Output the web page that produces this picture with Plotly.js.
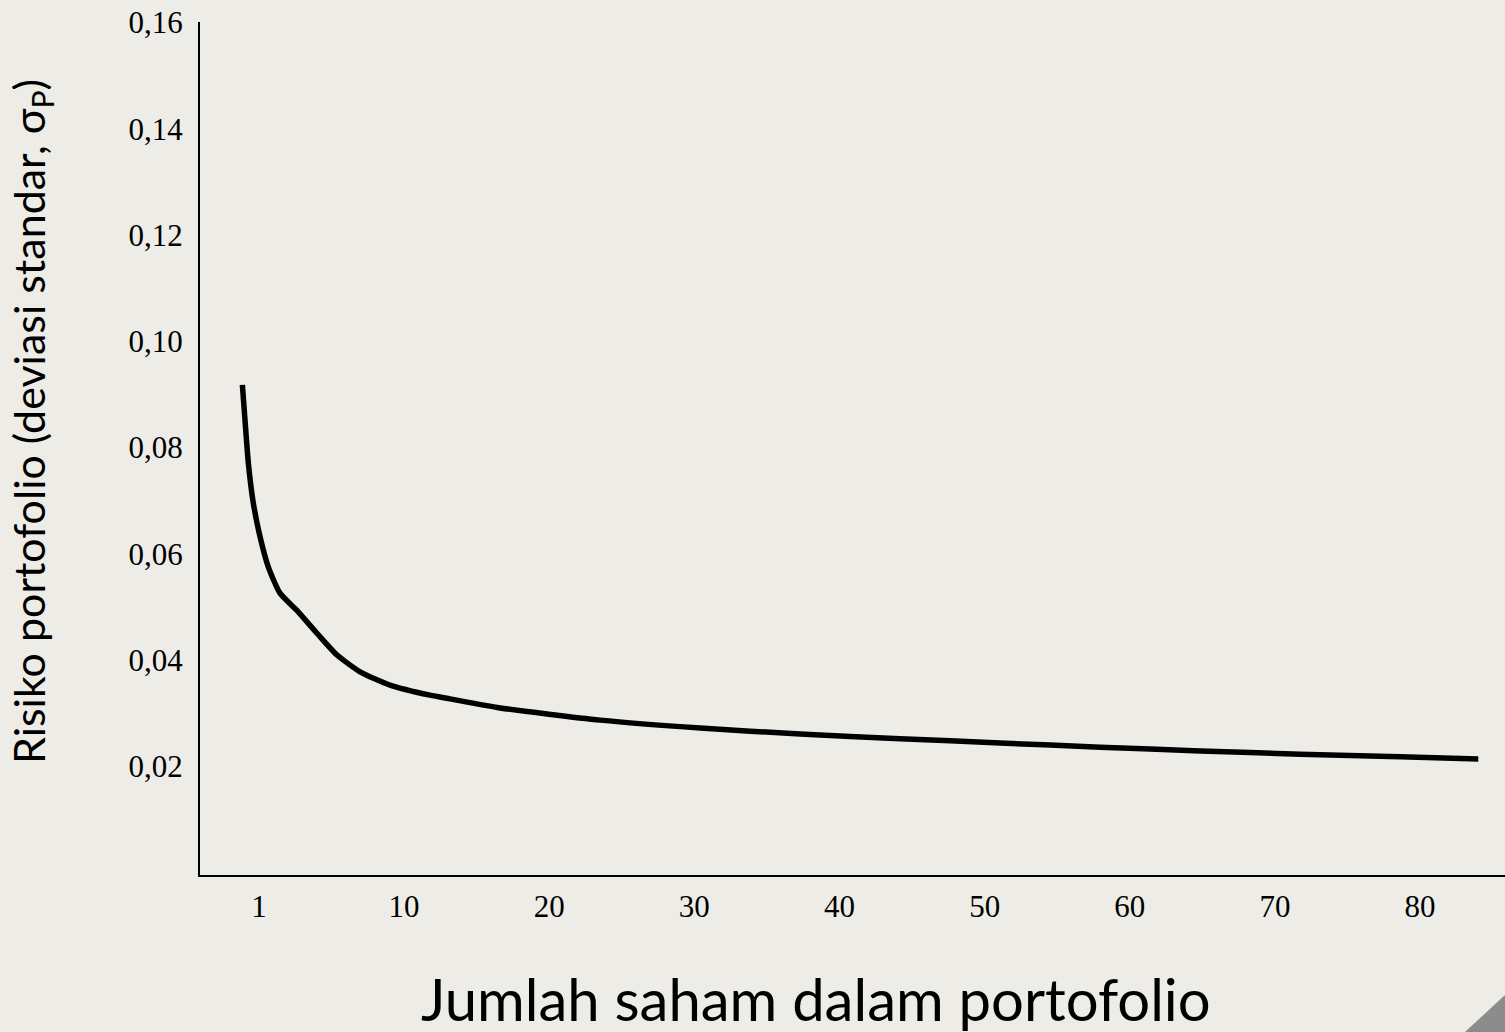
<!DOCTYPE html>
<html>
<head>
<meta charset="utf-8">
<script src="https://cdn.plot.ly/plotly-3.0.1.min.js"></script>
<style>
  html, body { margin: 0; padding: 0; background: #EDECE7; }
  #chart { width: 1505px; height: 1032px; }
</style>
</head>
<body>
<div id="chart"></div>
<script>
// Curve: position along the x axis and portfolio risk (standard deviation)
const stockCount = [-1.14, -0.96, -0.73, -0.39, 0.08, 0.65, 1.45, 2.60, 3.98, 5.36, 6.97, 9.03, 11.79, 13.17, 16.61, 23.51, 30.40, 37.29, 44.18, 51.07, 57.96, 64.85, 71.74, 78.63, 84.01];
const portfolioRisk = [0.0918, 0.0852, 0.0771, 0.0696, 0.0632, 0.0575, 0.0526, 0.0494, 0.0451, 0.0410, 0.0378, 0.0353, 0.0334, 0.0327, 0.0310, 0.0287, 0.0272, 0.0261, 0.0252, 0.0244, 0.0236, 0.0229, 0.0223, 0.0218, 0.0214];

const xTickVals = [0, 10, 20, 30, 40, 50, 60, 70, 80];
const xTickText = ['1', '10', '20', '30', '40', '50', '60', '70', '80'];
const yTickVals = [0.02, 0.04, 0.06, 0.08, 0.10, 0.12, 0.14, 0.16];
const yTickText = ['0,02', '0,04', '0,06', '0,08', '0,10', '0,12', '0,14', '0,16'];

const xTitle = 'Jumlah saham dalam portofolio';
const yTitle = 'Risiko portofolio (deviasi standar, σ<sub>P</sub>)';

const trace = {
  x: stockCount,
  y: portfolioRisk,
  type: 'scatter',
  mode: 'lines',
  line: { color: '#000000', width: 5.5, shape: 'spline', smoothing: 0.6 },
  hoverinfo: 'x+y'
};

const tickFont = { family: '"Liberation Serif", "Times New Roman", serif', size: 31, color: '#000000' };
const titleFontFamily = 'Lato, "Open Sans", sans-serif';

const layout = {
  width: 1505,
  height: 1032,
  paper_bgcolor: '#EDECE7',
  plot_bgcolor: 'rgba(0,0,0,0)',
  margin: { l: 200, r: 0, t: 22, b: 157, pad: 0 },
  showlegend: false,
  xaxis: {
    range: [-4.06, 85.85],
    tickmode: 'array',
    tickvals: xTickVals,
    ticktext: xTickText,
    tickfont: tickFont,
    ticks: '',
    ticklabelstandoff: 3,
    showgrid: false,
    zeroline: false,
    showline: true,
    linecolor: '#000000',
    linewidth: 2,
    fixedrange: true
  },
  yaxis: {
    range: [-0.00045, 0.1601],
    tickmode: 'array',
    tickvals: yTickVals,
    ticktext: yTickText,
    tickfont: tickFont,
    ticks: '',
    ticklabelstandoff: 9,
    showgrid: false,
    zeroline: false,
    showline: true,
    linecolor: '#000000',
    linewidth: 2,
    fixedrange: true
  },
  annotations: [
    {
      text: xTitle,
      xref: 'paper', yref: 'paper',
      x: (816 - 200) / 1305, y: (875 - 998) / 853,
      xanchor: 'center', yanchor: 'middle',
      showarrow: false,
      font: { family: titleFontFamily, size: 58, color: '#000000' }
    },
    {
      text: yTitle,
      xref: 'paper', yref: 'paper',
      x: (31 - 200) / 1305, y: (875 - 422) / 853,
      xanchor: 'center', yanchor: 'middle',
      textangle: -90,
      showarrow: false,
      font: { family: titleFontFamily, size: 43, color: '#000000' }
    }
  ],
  shapes: [
    {
      type: 'path',
      xref: 'paper', yref: 'paper',
      path: 'M 0.9693 -0.1841 L 1 -0.1407 L 1 -0.1841 Z',
      fillcolor: '#8C8C8C',
      line: { width: 0 },
      layer: 'above'
    }
  ]
};

Plotly.newPlot('chart', [trace], layout, { displayModeBar: false, staticPlot: false });
</script>
</body>
</html>
